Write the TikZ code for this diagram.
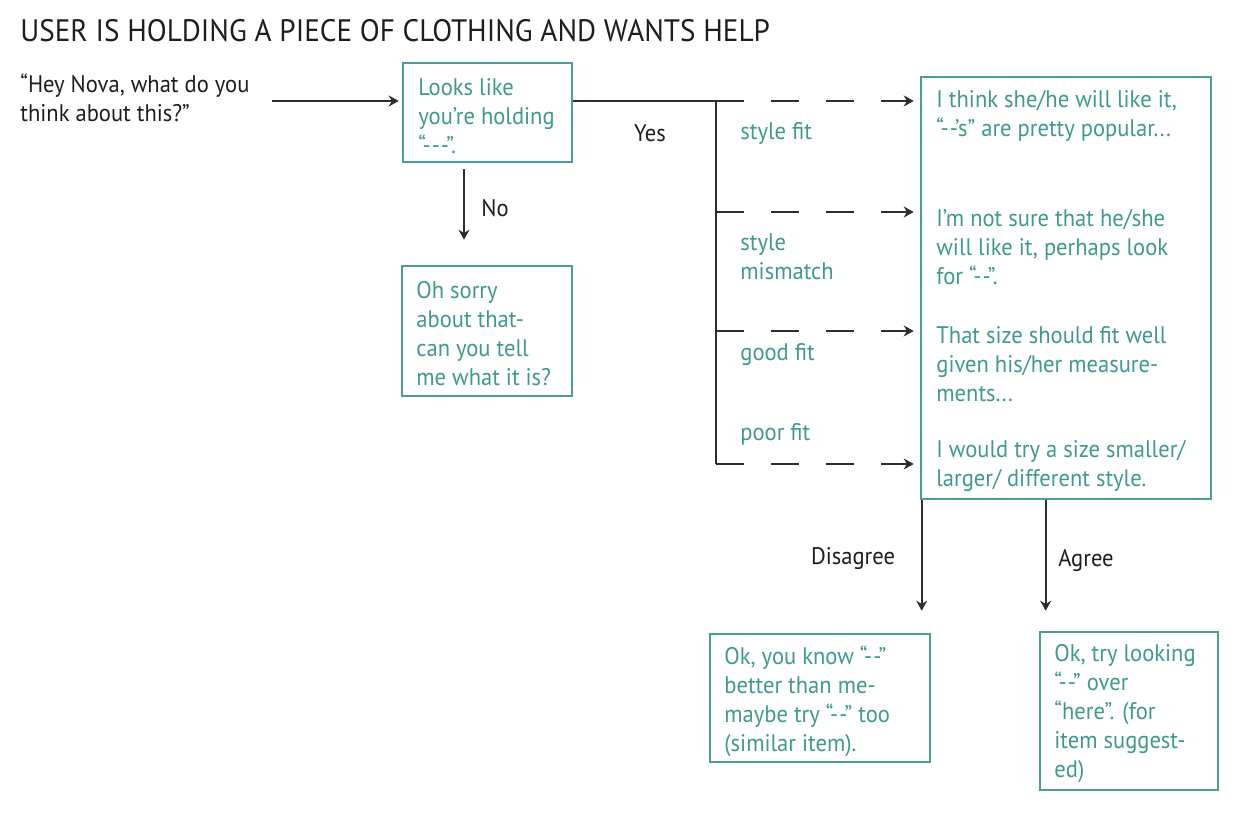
\documentclass[tikz,border=0pt]{standalone}
\usepackage{fontspec}
\setmainfont{PT Sans}[FakeStretch=0.94]
\usetikzlibrary{arrows.meta}
\definecolor{tealc}{HTML}{3F9A8C}
\definecolor{tealb}{HTML}{4A9F92}
\definecolor{ink}{HTML}{1E1E1E}
\definecolor{lnc}{HTML}{2E2E2E}
\newcommand{\hh}{-\kern0.5pt-}
\newcommand{\hhh}{-\kern0.5pt-\kern0.5pt-}
\begin{document}
\begin{tikzpicture}[x=0.5pt,y=-0.5pt,
  tbox/.style={draw=tealb,line width=1.3pt,fill=white,inner sep=0pt},
  ttext/.style={text=tealc,font=\fontsize{12}{14.5}\selectfont,align=left,inner sep=0pt,anchor=west},
  btext/.style={text=ink,font=\fontsize{12}{14.5}\selectfont,align=left,inner sep=0pt},
  conn/.style={draw=lnc,line width=1pt},
  arr/.style={conn,-{Stealth[length=5pt,width=5.5pt]}},
  darr/.style={arr,dash pattern=on 14pt off 13.5pt}
]
\useasboundingbox (0,0) rectangle (1244,838);

% title
\node[anchor=base west,text=ink,font=\fontsize{15.5}{18}\selectfont,inner sep=0pt] (title) at (20,42) {USER IS HOLDING A PIECE OF CLOTHING AND WANTS HELP};

% user quote
\node[btext,anchor=west] (quote) at (20,98) {“Hey Nova, what do you\\think about this?”};

% boxes
\node[tbox,minimum width=84.5pt,minimum height=49.5pt] (b1) at (487.5,112.5) {};
\node[ttext] (b1t) at (418,116) {Looks like\\you’re holding\\“\hhh”.};

\node[tbox,minimum width=85pt,minimum height=65pt] (b2) at (487,331) {};
\node[ttext] (b2t) at (416,334) {Oh sorry\\about that-\\can you tell\\me what it is?};

\node[tbox,minimum width=145pt,minimum height=211pt] (big) at (1066,288) {};
\node[ttext] (r1) at (936,115.5) {I think she/he will like it,\\“\hh’s” are pretty popular...};
\node[ttext] (r2) at (936,247) {I’m not sure that he/she\\will like it, perhaps look\\for “\hh”.};
\node[ttext] (r3) at (936,364) {That size should fit well\\given his/her measure-\\ments...};
\node[ttext] (r4) at (936,466.5) {I would try a size smaller/\\larger/ different style.};

\node[tbox,minimum width=110pt,minimum height=64pt] (bd) at (820,698) {};
\node[ttext] (bdt) at (724,701.5) {Ok, you know “\hh”\\better than me-\\maybe try “\hh” too\\(similar item).};

\node[tbox,minimum width=89pt,minimum height=79pt] (ba) at (1129,711) {};
\node[ttext] (bat) at (1054,714) {Ok, try looking\\“\hh” over\\“here”. (for\\item suggest-\\ed)};

% connectors
\coordinate (qa) at (272,101);
\draw[arr,shorten >=1.5pt] (qa) -- (qa -| b1.west);

\coordinate (j1) at (716,101);
\coordinate (j2) at (716,212);
\coordinate (j3) at (716,331);
\coordinate (j4) at (716,464);
\draw[conn] (j1 -| b1.east) -- (j1) -- (j4);
\draw[darr,shorten >=3pt] (j1) -- (j1 -| big.west);
\draw[darr,shorten >=3pt] (j2) -- (j2 -| big.west);
\draw[darr,shorten >=3pt] (j3) -- (j3 -| big.west);
\draw[darr,shorten >=3pt] (j4) -- (j4 -| big.west);

\draw[arr,shorten <=3pt,shorten >=12.5pt] ([xshift=-11.75pt]b1.south) -- ([xshift=-11.75pt]b1.south |- b2.north);
\draw[arr,shorten >=11pt] ([xshift=1pt]big.south west) -- ([xshift=1pt]big.south west |- bd.north);
\draw[arr,shorten >=10pt] ([xshift=63pt]big.south west) -- ([xshift=63pt]big.south west |- ba.north);

% branch labels
\node[btext] (yes) at (650,133) {Yes};
\node[btext] (no) at (495,208) {No};
\node[btext] (dis) at (853,559) {Disagree};
\node[btext] (agr) at (1086,561) {Agree};
\node[ttext] (l1) at (740,133) {style fit};
\node[ttext] (l2) at (740,256.5) {style\\mismatch};
\node[ttext] (l3) at (740,355) {good fit};
\node[ttext] (l4) at (740,434) {poor fit};
\end{tikzpicture}
\end{document}
